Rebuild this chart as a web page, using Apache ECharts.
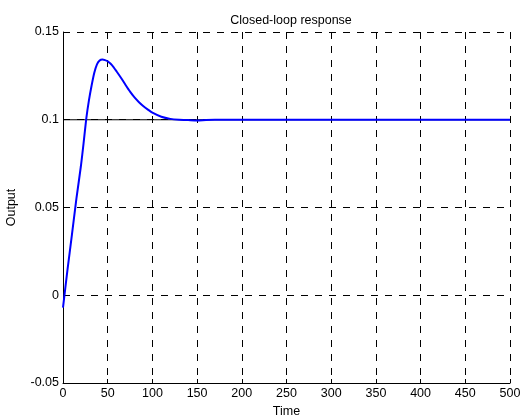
<!DOCTYPE html>
<html>
<head>
<meta charset="utf-8">
<script src="https://cdn.jsdelivr.net/npm/echarts@6/dist/echarts.min.js"></script>
<style>
  html, body { margin: 0; padding: 0; background: #fff; }
  #chart { width: 520px; height: 418px; }
</style>
</head>
<body>
<div id="chart"></div>
<script>
// Datos
const timeValues = [0, 5, 10, 15, 20, 23, 26, 29, 32, 35, 38, 41, 44, 47, 50, 55, 60, 65, 70, 75, 80, 85, 90, 95, 100, 110, 120, 130, 140, 150, 160, 170, 200, 250, 300, 350, 400, 450, 500];
const outputValues = [-0.007, 0.0145, 0.0345, 0.055, 0.0735, 0.0865, 0.1005, 0.111, 0.1195, 0.1268, 0.1316, 0.1338, 0.1343, 0.134, 0.1333, 0.131, 0.1275, 0.1238, 0.1198, 0.116, 0.1127, 0.11, 0.1077, 0.1058, 0.104, 0.1017, 0.1005, 0.1, 0.0998, 0.0996, 0.0999, 0.1, 0.1, 0.1, 0.1, 0.1, 0.1, 0.1, 0.1];
const refTime = [0, 500];
const refValues = [0.1, 0.1];

const chart = echarts.init(document.getElementById('chart'));
const font = 'Liberation Sans, Arial, sans-serif';

const option = {
  animation: false,
  backgroundColor: '#fff',
  title: {
    text: 'Closed-loop response',
    left: 286,
    textAlign: 'center',
    top: 9,
    textStyle: { fontFamily: font, fontSize: 12.5, fontWeight: 'normal', color: '#000' }
  },
  grid: { left: 63, right: 10, top: 32, bottom: 35, outerBoundsMode: 'none', containLabel: false },
  xAxis: {
    type: 'value',
    min: 0,
    max: 500,
    interval: 50,
    name: 'Time',
    nameLocation: 'middle',
    nameGap: 22,
    nameTextStyle: { fontFamily: font, fontSize: 12.5, color: '#000' },
    axisLine: { show: true, onZero: false, lineStyle: { color: '#000', width: 1 } },
    axisTick: { show: true, inside: true, length: 4, lineStyle: { color: '#000' } },
    axisLabel: { fontFamily: font, fontSize: 12.5, color: '#000', margin: 4 },
    splitLine: { show: true, lineStyle: { color: '#000', type: [7, 7], width: 1 } }
  },
  yAxis: {
    type: 'value',
    min: -0.05,
    max: 0.15,
    interval: 0.05,
    name: 'Output',
    nameLocation: 'middle',
    nameGap: 45,
    nameTextStyle: { fontFamily: font, fontSize: 12.5, color: '#000' },
    axisLine: { show: true, onZero: false, lineStyle: { color: '#000', width: 1 } },
    axisTick: { show: true, inside: true, length: 4, lineStyle: { color: '#000' } },
    axisLabel: {
      fontFamily: font, fontSize: 12.5, color: '#000', margin: 4,
      formatter: v => String(Math.round(v * 100) / 100)
    },
    splitLine: { show: true, lineStyle: { color: '#000', type: [7, 7], width: 1 } }
  },
  series: [
    {
      name: 'Reference',
      type: 'line',
      data: refTime.map((t, i) => [t, refValues[i]]),
      showSymbol: false,
      lineStyle: { color: '#000', width: 1 },
      z: 2
    },
    {
      name: 'Output',
      type: 'line',
      smooth: 0.2,
      data: timeValues.map((t, i) => [t, outputValues[i]]),
      showSymbol: false,
      lineStyle: { color: '#0000ff', width: 2 },
      z: 3
    }
  ]
};

chart.setOption(option);
</script>
</body>
</html>
